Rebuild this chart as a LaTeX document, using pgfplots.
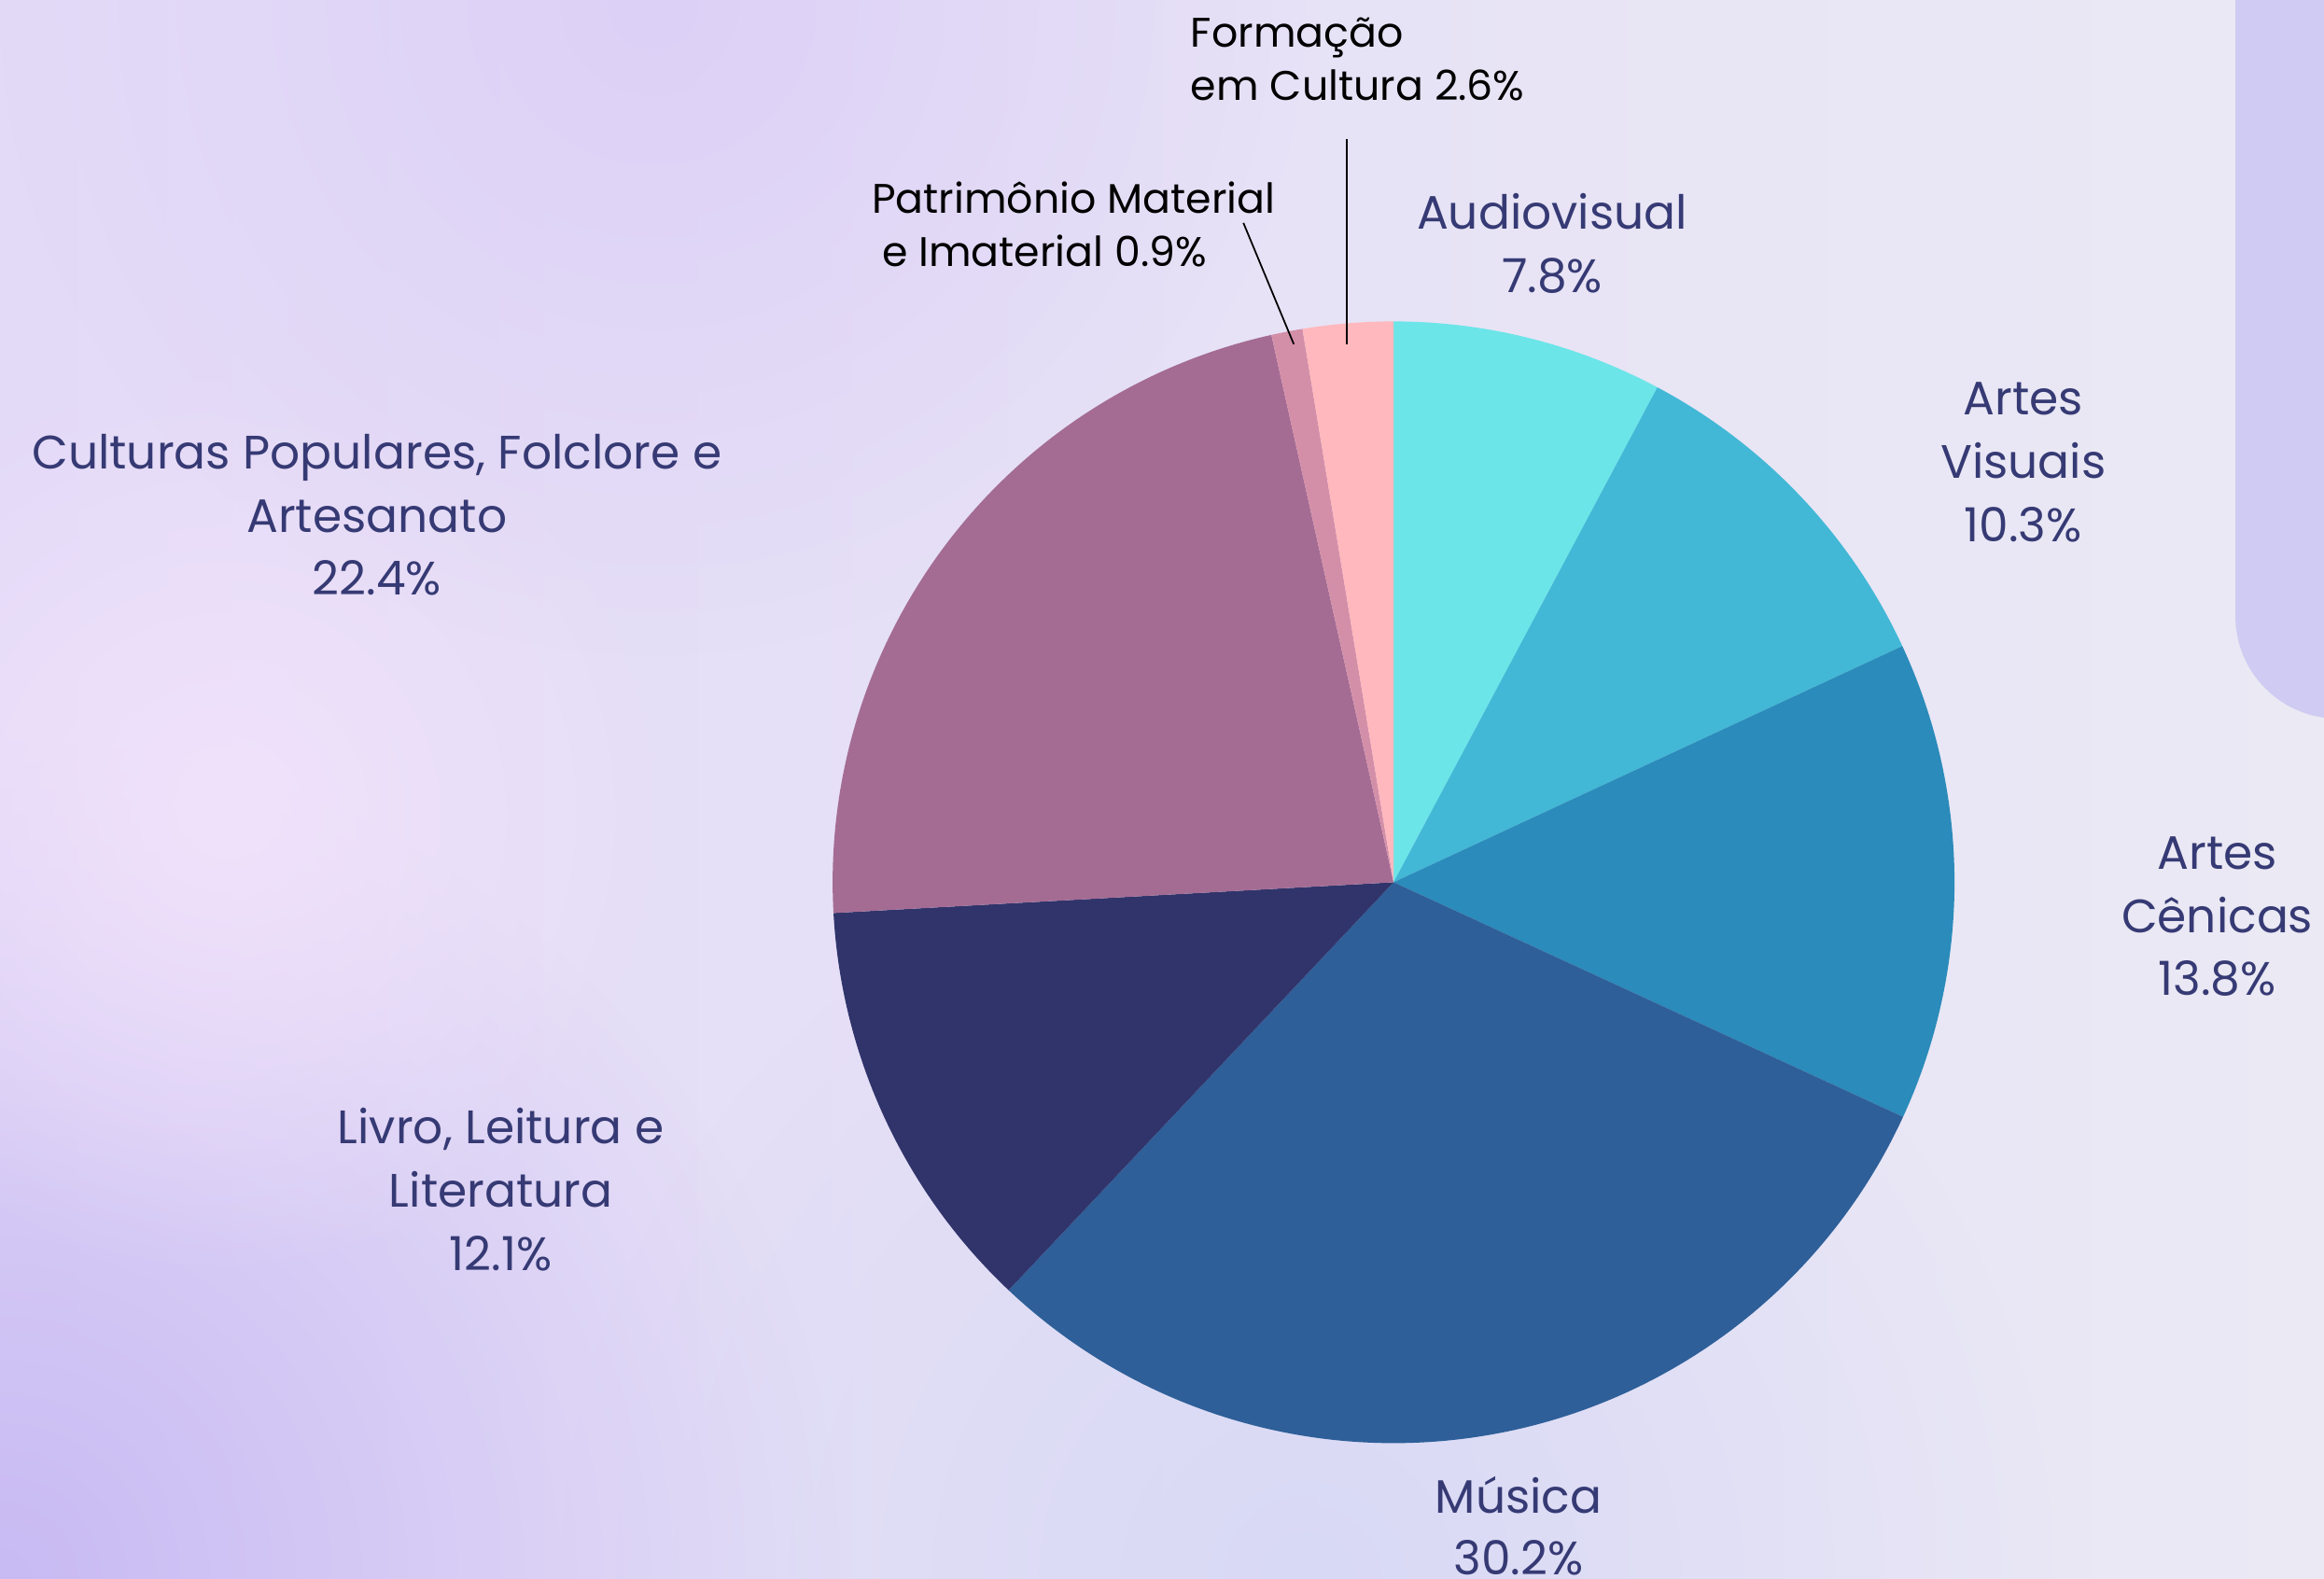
\documentclass[border=0pt]{standalone}
\usepackage{pgfplots}
\pgfplotsset{compat=1.18}
\usepackage{fontspec}
\setmainfont{Poppins}
\usetikzlibrary{fadings}
\tikzfading[name=glow, inner color=transparent!0, outer color=transparent!100]
\definecolor{bgL}{HTML}{E3DAF8}
\definecolor{bgR}{HTML}{EAE9F4}
\definecolor{bgBL}{HTML}{C8BAF3}
\definecolor{bgPink}{HTML}{F1E2FB}
\definecolor{bgTop}{HTML}{DDD0F6}
\definecolor{bgBot}{HTML}{D8D9F5}
\definecolor{panel}{HTML}{CFCBF2}
\definecolor{lab}{HTML}{363A74}
\definecolor{cAud}{HTML}{6CE5E8}
\definecolor{cVis}{HTML}{42B8D6}
\definecolor{cCen}{HTML}{2B8BBA}
\definecolor{cMus}{HTML}{2E5F98}
\definecolor{cLiv}{HTML}{30346B}
\definecolor{cCul}{HTML}{A46C93}
\definecolor{cPat}{HTML}{D48FA8}
\definecolor{cFor}{HTML}{FFB8BD}
% slice: cumulative start %, cumulative end %, colour (percentages sum to 100.1)
\newcommand{\slice}[3]{\fill[#3] (axis cs:1494,747) -- ++({90-#1*3.5964}:6.01cm) arc[start angle={90-#1*3.5964}, end angle={90-#2*3.5964}, radius=6.01cm] -- cycle;}
\newcommand{\bigfont}{\fontsize{14.3}{16}\selectfont}
\newcommand{\smallfont}{\fontsize{12.6}{14}\selectfont}
\begin{document}
\begin{tikzpicture}
\begin{scope}
\clip (0,0) rectangle (24.9,16.92);
\shade[left color=bgL, right color=bgR] (0,0) rectangle (24.9,16.92);
\fill[bgBot, path fading=glow] (14,0) circle (8);
\fill[bgBL, path fading=glow] (0,0) circle (9);
\fill[bgPink, path fading=glow] (2.4,8.2) circle (5);
\fill[bgTop, path fading=glow] (7,16.9) circle (7);
\fill[panel, rounded corners=1.1cm] (23.95,9.22) rectangle (26,18);
\end{scope}
\begin{axis}[at={(0,0)}, anchor=south west, x=0.01cm, y=0.01cm,
  xmin=0, xmax=2490, ymin=0, ymax=1692, hide axis, clip=false]
\addplot[draw=none, forget plot] coordinates {(1494,747)};
% Audiovisual 7.8, Artes Visuais 10.3, Artes Cenicas 13.8, Musica 30.2,
% Livro 12.1, Culturas 22.4, Patrimonio 0.9, Formacao 2.6
\slice{0}{7.8}{cAud}
\slice{7.8}{18.1}{cVis}
\slice{18.1}{31.9}{cCen}
\slice{31.9}{62.1}{cMus}
\slice{62.1}{74.2}{cLiv}
\slice{74.2}{96.6}{cCul}
\slice{96.6}{97.5}{cPat}
\slice{97.5}{100.1}{cFor}
% leader lines
\draw[black, line width=0.5pt] (axis cs:1444,1544) -- (axis cs:1444,1324);
\draw[black, line width=0.5pt] (axis cs:1333,1454) -- (axis cs:1387,1324);
% small labels
\node[anchor=base west, font=\smallfont, text=black, inner sep=0pt] at (axis cs:1276,1642) {Formação};
\node[anchor=base west, font=\smallfont, text=black, inner sep=0pt] at (axis cs:1276,1585) {em Cultura 2.6\%};
\node[anchor=base west, font=\smallfont, text=black, inner sep=0pt] at (axis cs:934,1464) {Patrimônio Material};
\node[anchor=base west, font=\smallfont, text=black, inner sep=0pt] at (axis cs:945,1407) {e Imaterial 0.9\%};
% main labels
\node[anchor=base, font=\bigfont, text=lab, inner sep=0pt] at (axis cs:1664,1447) {Audiovisual};
\node[anchor=base, font=\bigfont, text=lab, inner sep=0pt] at (axis cs:1664,1379) {7.8\%};
\node[anchor=base, font=\bigfont, text=lab, inner sep=0pt] at (axis cs:2169,1248) {Artes};
\node[anchor=base, font=\bigfont, text=lab, inner sep=0pt] at (axis cs:2169,1180) {Visuais};
\node[anchor=base, font=\bigfont, text=lab, inner sep=0pt] at (axis cs:2169,1112) {10.3\%};
\node[anchor=base, font=\bigfont, text=lab, inner sep=0pt] at (axis cs:2377,761) {Artes};
\node[anchor=base, font=\bigfont, text=lab, inner sep=0pt] at (axis cs:2377,693) {Cênicas};
\node[anchor=base, font=\bigfont, text=lab, inner sep=0pt] at (axis cs:2377,626) {13.8\%};
\node[anchor=base, font=\bigfont, text=lab, inner sep=0pt] at (axis cs:1628,71) {Música};
\node[anchor=base, font=\bigfont, text=lab, inner sep=0pt] at (axis cs:1628,4) {30.2\%};
\node[anchor=base, font=\bigfont, text=lab, inner sep=0pt] at (axis cs:537,467) {Livro, Leitura e};
\node[anchor=base, font=\bigfont, text=lab, inner sep=0pt] at (axis cs:537,399) {Literatura};
\node[anchor=base, font=\bigfont, text=lab, inner sep=0pt] at (axis cs:537,331) {12.1\%};
\node[anchor=base, font=\bigfont, text=lab, inner sep=0pt] at (axis cs:404,1190) {Culturas Populares, Folclore e};
\node[anchor=base, font=\bigfont, text=lab, inner sep=0pt] at (axis cs:404,1122) {Artesanato};
\node[anchor=base, font=\bigfont, text=lab, inner sep=0pt] at (axis cs:404,1055) {22.4\%};
\end{axis}
\pgfresetboundingbox
\useasboundingbox (0,0) rectangle (24.9,16.92);
\end{tikzpicture}
\end{document}
